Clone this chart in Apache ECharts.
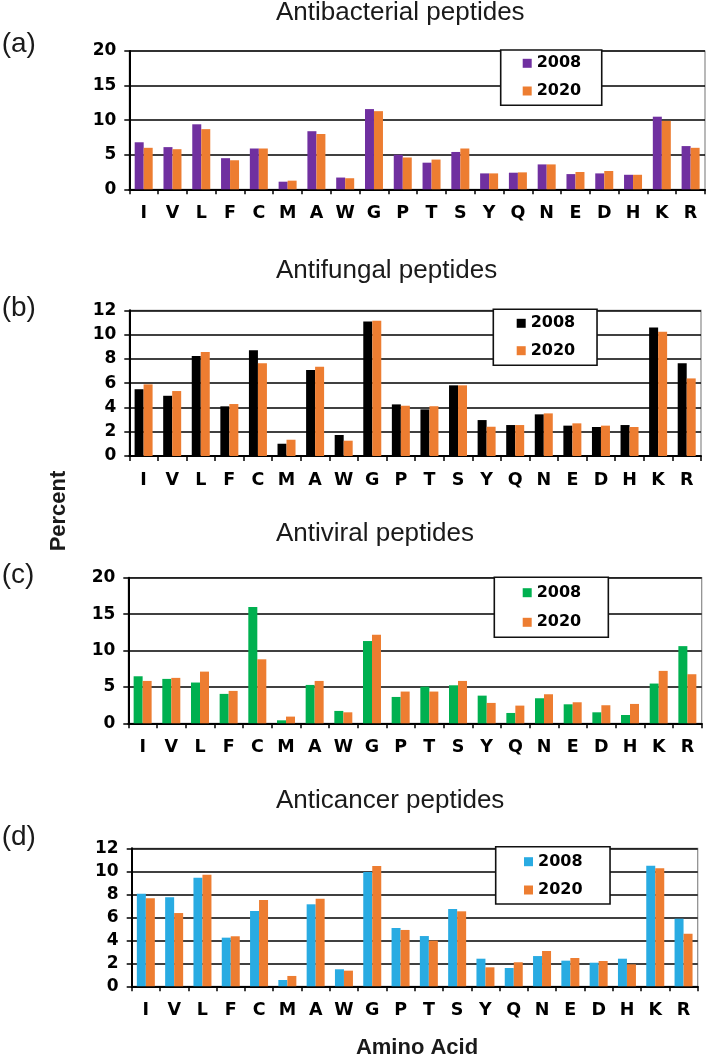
<!DOCTYPE html>
<html>
<head>
<meta charset="utf-8">
<script src="https://cdn.jsdelivr.net/npm/echarts@6/dist/echarts.min.js"></script>
<style>html,body{margin:0;padding:0;background:#fff}#c{width:709px;height:1058px}</style>
</head>
<body>
<div id="c"></div>
<script>
const categories = ['I','V','L','F','C','M','A','W','G','P','T','S','Y','Q','N','E','D','H','K','R'];
const years = ['2008','2020'];
const titles = ['Antibacterial peptides','Antifungal peptides','Antiviral peptides','Anticancer peptides'];
const panelLabels = ['(a)','(b)','(c)','(d)'];
const yMax = [20, 12, 20, 12];
const yStep = [5, 2, 5, 2];
const antibacterial2008 = [6.8,6.1,9.4,4.5,5.9,1.1,8.4,1.7,11.6,5.0,3.85,5.4,2.3,2.4,3.6,2.2,2.3,2.1,10.5,6.25];
const antibacterial2020 = [6.0,5.8,8.7,4.2,5.9,1.25,8.0,1.6,11.3,4.6,4.3,5.9,2.3,2.45,3.6,2.5,2.65,2.1,9.9,6.0];
const antifungal2008 = [5.5,4.96,8.23,4.09,8.7,1.01,7.08,1.73,11.08,4.25,3.84,5.82,2.96,2.55,3.43,2.5,2.39,2.55,10.59,7.63];
const antifungal2020 = [5.9,5.35,8.56,4.28,7.63,1.34,7.35,1.26,11.14,4.14,4.1,5.82,2.41,2.55,3.51,2.69,2.5,2.39,10.23,6.39];
const antiviral2008 = [6.46,6.1,5.6,4.04,15.98,0.41,5.27,1.7,11.3,3.62,5.04,5.22,3.8,1.42,3.44,2.61,1.51,1.14,5.46,10.6];
const antiviral2020 = [5.82,6.24,7.1,4.45,8.79,0.92,5.82,1.51,12.17,4.36,4.36,5.82,2.8,2.43,3.99,2.89,2.48,2.66,7.2,6.74];
const anticancer2008 = [8.05,7.74,9.44,4.23,6.55,0.55,7.13,1.48,9.94,5.07,4.37,6.72,2.4,1.59,2.63,2.23,2.05,2.4,10.49,5.88];
const anticancer2020 = [7.65,6.37,9.7,4.35,7.5,0.9,7.62,1.36,10.46,4.9,3.97,6.52,1.65,2.09,3.07,2.46,2.2,1.91,10.26,4.57];

const panelData = [
  [antibacterial2008, antibacterial2020],
  [antifungal2008, antifungal2020],
  [antiviral2008, antiviral2020],
  [anticancer2008, anticancer2020]
];
const colors2008 = ['#7030A0','#000000','#00B050','#29ABE2'];
const color2020 = '#ED7D31';

// layout (pixels)
const grids = [
  {left:129.3, top:51,    width:575.7, height:138.3},
  {left:129.3, top:310.3, width:571.7, height:145.7},
  {left:128.3, top:577.7, width:573.4, height:145.6},
  {left:131.7, top:848.3, width:566,   height:138}
];
const legendPos = [
  {left:500.7, top:50,    padding:[4.3,20.5,5.3,22],   gap:9.7},
  {left:493.3, top:309.3, padding:[5,21.8,5.6,23.4],   gap:9.4},
  {left:494.3, top:577.3, padding:[6.4,27.1,6,28.4],   gap:11.6},
  {left:495.7, top:846.7, padding:[6,27.5,5,28.3],     gap:10.3}
];
const titleY = [12.5, 270.8, 534.2, 800.8];
const labelY = [44.5, 308, 575.5, 837];

const tickFont = {fontFamily:'DejaVu Sans', fontWeight:'bold', color:'#000'};

const option = {
  animation:false,
  backgroundColor:'#fff',
  grid: grids.map(g => Object.assign({show:true, borderColor:'#8a8a8a', borderWidth:1.2, backgroundColor:'transparent'}, g)),
  xAxis: grids.map((g,i) => ({
    type:'category', gridIndex:i, data:categories,
    axisLine:{show:true, lineStyle:{color:'#000', width:2}},
    axisTick:{show:true, length:5, lineStyle:{color:'#000', width:1.5}},
    axisLabel:Object.assign({fontSize:17.5, margin:15, interval:0}, tickFont)
  })),
  yAxis: grids.map((g,i) => ({
    type:'value', gridIndex:i, min:0, max:yMax[i], interval:yStep[i],
    axisLine:{show:true, lineStyle:{color:'#000', width:2}},
    axisTick:{show:true, length:5, lineStyle:{color:'#000', width:1.5}},
    axisLabel:Object.assign({fontSize:17, margin:13}, tickFont),
    splitLine:{show:true, lineStyle:{color:'#000', width:1.5}}
  })),
  legend: legendPos.map((p,i) => ({
    orient:'vertical', left:p.left, top:p.top, padding:p.padding, itemGap:p.gap,
    itemWidth:9, itemHeight:9, icon:'rect', selectedMode:false,
    backgroundColor:'#fff', borderColor:'#111', borderWidth:1.6,
    data:years.map(y => y + ' ' + panelLabels[i]),
    formatter: name => name.slice(0,4),
    textStyle:{fontFamily:'DejaVu Sans', fontWeight:'bold', fontSize:16, lineHeight:18, color:'#000'}
  })),
  series: [],
  graphic: []
};

panelData.forEach((pair, i) => {
  pair.forEach((vals, k) => {
    option.series.push({
      type:'bar', name: years[k] + ' ' + panelLabels[i],
      xAxisIndex:i, yAxisIndex:i, data:vals,
      barWidth:9, barGap:'0%',
      itemStyle:{color: k === 0 ? colors2008[i] : color2020}
    });
  });
  option.graphic.push({
    type:'text', x:276, y:titleY[i], z:10,
    style:{text:titles[i], fontFamily:'Liberation Sans', fontSize:26, fill:'#1a1a1a', align:'left', verticalAlign:'middle'}
  });
  option.graphic.push({
    type:'text', x:1.7, y:labelY[i], z:10,
    style:{text:panelLabels[i], fontFamily:'Liberation Sans', fontSize:28, fill:'#1a1a1a', align:'left', verticalAlign:'middle'}
  });
});
option.graphic.push({
  type:'text', x:59, y:511, rotation:Math.PI/2, z:10,
  style:{text:'Percent', fontFamily:'Liberation Sans', fontWeight:'bold', fontSize:22, fill:'#1a1a1a', align:'center', verticalAlign:'middle'}
});
option.graphic.push({
  type:'text', x:417, y:1048, z:10,
  style:{text:'Amino Acid', fontFamily:'Liberation Sans', fontWeight:'bold', fontSize:22, fill:'#1a1a1a', align:'center', verticalAlign:'middle'}
});

const chart = echarts.init(document.getElementById('c'), null, {renderer:'canvas'});
chart.setOption(option);
</script>
</body>
</html>
